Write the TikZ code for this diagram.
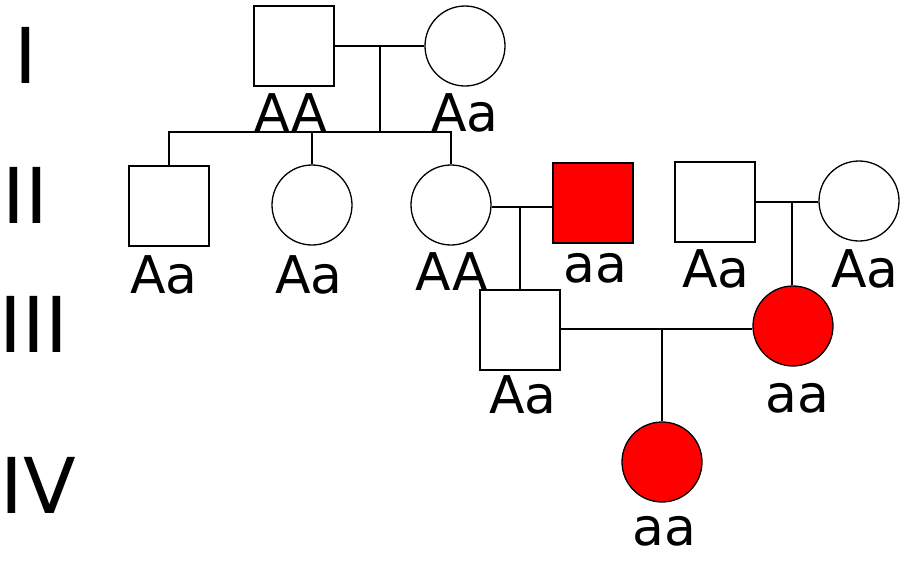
\documentclass[tikz,border=0pt]{standalone}
\usepackage{fontspec}
\setmainfont{DejaVu Sans}
\definecolor{aff}{RGB}{255,0,0}
\begin{document}
\begin{tikzpicture}[x=1pt,y=-1pt,
  male/.style={draw,line width=1.3pt,rectangle,minimum size=80pt,inner sep=0pt,fill=white},
  female/.style={draw,line width=1.3pt,circle,minimum size=80pt,inner sep=0pt,fill=white},
  affected/.style={fill=aff},
  geno/.style={anchor=base,inner sep=0pt,font=\fontsize{52}{60}\selectfont},
  gen/.style={anchor=base,inner sep=0pt,font=\fontsize{77}{90}\selectfont},
  link/.style={line width=1.3pt}]
\fill[white] (0,0) rectangle (900,560);
\useasboundingbox (0,0) rectangle (900,560);
% generation labels
\node[gen] (gI) at (26,83) {I};
\node[gen] (gII) at (25,223) {II};
\node[gen] (gIII) at (34,352) {III};
\node[gen] (gIV) at (38,513) {IV};
% individuals
\node[male] (Ifa) at (294,46) {};
\node[female] (Imo) at (465,46) {};
\node[male] (a) at (169,206) {};
\node[female] (b) at (312,205) {};
\node[female] (c) at (451,205) {};
\node[male,affected] (d) at (593,203) {};
\node[male] (e) at (715,202) {};
\node[female] (f) at (859,201) {};
\node[male] (g) at (520,330) {};
\node[female,affected] (h) at (793,326) {};
\node[female,affected] (k) at (662,462) {};
% genotypes
\node[geno] (tIfa) at (291,131) {AA};
\node[geno] (tImo) at (465,131) {Aa};
\node[geno] (ta) at (164,293) {Aa};
\node[geno] (tb) at (309,293) {Aa};
\node[geno] (tc) at (452,290) {AA};
\node[geno] (td) at (595,282) {aa};
\node[geno] (te) at (716,287) {Aa};
\node[geno] (tf) at (865,287) {Aa};
\node[geno] (tg) at (523,413) {Aa};
\node[geno] (th) at (797,412) {aa};
\node[geno] (tk) at (664,545) {aa};
% connectors
\coordinate (j1) at (380,46);
\coordinate (s1) at (380,132);
\draw[link] (Ifa.east) -- (Imo.west);
\draw[link] (j1) -- (s1);
\draw[link] (a.north) |- (s1) -| (c.north);
\draw[link] (b.north) -- (b.north |- s1);
\coordinate (j2) at (520,207);
\draw[link] (c.east |- j2) -- (d.west |- j2);
\draw[link] (j2) -- (g.north);
\coordinate (j3) at (792,202);
\draw[link] (e.east |- j3) -- (f.west |- j3);
\draw[link] (j3) -- (h.north -| j3);
\coordinate (j4) at (662,329);
\draw[link] (g.east |- j4) -- (h.west |- j4);
\draw[link] (j4) -- (k.north);
\end{tikzpicture}
\end{document}
